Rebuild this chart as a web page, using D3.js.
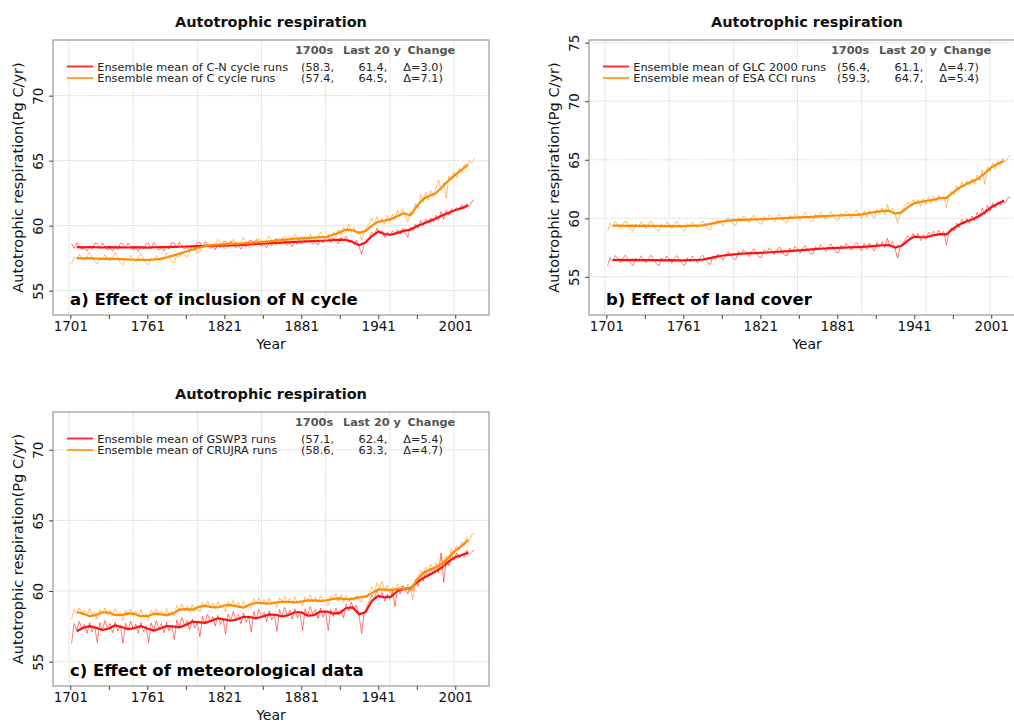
<!DOCTYPE html>
<html>
<head>
<meta charset="utf-8">
<script src="https://cdn.jsdelivr.net/npm/d3@7"></script>
<style>
  body { margin: 0; background: #fff; }
  svg { display: block; }
  text { font-family: "DejaVu Sans", sans-serif; }
</style>
</head>
<body>
<svg id="fig" width="1014" height="722"></svg>
<script>
// ---- Time axes of the series ----
const annualStart = 1702, annualStep = 2;   // yearly ensemble means, sampled every 2 years
const smoothStart = 1706, smoothStep = 5;   // running mean, sampled every 5 years

// ---- a) Effect of inclusion of N cycle ----
const cnAnnual = [
  58.65,58.25,58.70,58.40,58.15,58.30,58.05,58.45,58.20,58.65,
  58.62,58.22,58.68,58.38,58.12,58.30,58.04,58.44,58.18,58.66,
  58.60,58.24,58.66,58.36,58.14,58.28,58.02,58.42,58.20,58.62,
  58.64,58.22,58.70,58.40,58.12,58.30,58.05,58.45,58.18,58.68,
  58.68,58.28,58.72,58.44,58.18,58.34,58.08,58.48,58.24,58.70,
  58.74,58.32,58.78,58.50,58.24,58.40,58.14,58.54,58.30,58.76,
  58.80,58.40,58.84,58.56,58.30,58.46,58.20,58.60,58.36,58.82,
  58.90,58.50,58.95,58.66,58.40,58.56,58.30,58.70,58.46,58.92,
  59.00,58.60,59.05,58.76,58.50,58.66,58.40,58.80,58.56,59.02,
  59.10,58.70,59.15,58.86,58.60,58.76,58.50,58.90,58.66,59.12,
  59.15,58.7,59.1,58.8,58.6,59.1,58.9,59.2,58.7,58.9,
  58.55,58.9,58.4,57.8,58.6,58.9,59.1,59.5,59.3,59.8,
  59.4,59.6,59.1,59.5,59.2,59.6,59.3,59.7,59.35,59.8,
  59.4,59.1,59.9,59.6,60.1,59.8,60.4,60.0,60.5,60.2,
  60.6,60.3,60.8,60.4,61.1,60.5,61.2,60.8,61.3,61.1,
  61.4,61.2,61.6,61.3,61.7,61.5,61.85,62.0
];
const cAnnual = [
  57.05,57.60,57.40,57.80,57.50,57.30,57.60,57.95,57.60,57.20,
  57.05,57.55,57.35,57.78,57.45,57.25,57.55,57.92,57.55,57.15,
  57.00,57.50,57.30,57.72,57.40,57.20,57.52,57.88,57.50,57.10,
  56.98,57.48,57.28,57.70,57.40,57.20,57.52,57.90,57.55,57.25,
  57.15,57.70,57.55,58.00,57.75,57.60,57.95,58.40,58.15,57.90,
  57.95,58.50,58.30,58.75,58.45,58.30,58.60,58.95,58.65,58.30,
  58.25,58.75,58.55,58.95,58.65,58.45,58.75,59.10,58.75,58.35,
  58.35,58.85,58.65,59.05,58.76,58.55,58.85,59.22,58.88,58.48,
  58.50,59.02,58.82,59.22,58.92,58.72,59.02,59.38,59.02,58.62,
  58.65,59.15,58.95,59.35,59.05,58.85,59.15,59.50,59.15,58.78,
  59.3,58.9,59.5,59.1,59.7,59.3,59.9,59.6,60.1,59.5,
  59.9,59.4,59.6,58.9,59.5,59.9,60.2,60.6,60.1,60.7,
  60.2,60.6,60.1,60.8,60.3,60.9,60.5,61.2,60.7,61.3,
  60.8,60.3,61.1,60.9,61.7,61.3,62.4,61.8,62.6,62.0,
  62.7,62.2,62.9,63.5,62.7,63.3,62.1,63.8,63.5,64.1,
  63.7,64.4,64.0,64.7,64.5,65.0,64.8,65.2
];
const cnSmooth = [
  58.35,58.33,58.36,58.34,58.32,58.35,58.33,58.34,58.32,58.35,58.33,58.31,58.34,
  58.36,58.35,58.37,58.38,58.40,58.41,58.43,58.44,58.45,58.46,58.47,58.48,
  58.5,58.52,58.55,58.6,58.62,58.65,58.68,58.7,58.74,58.76,58.78,58.8,58.82,58.84,
  58.86,58.9,58.92,58.9,58.75,58.5,58.7,59.2,59.55,59.35,59.3,59.45,59.6,59.7,
  59.95,60.15,60.35,60.55,60.8,61.0,61.2,61.35,61.55
];
const cSmooth = [
  57.5,57.48,57.5,57.47,57.45,57.47,57.44,57.42,57.4,57.38,57.37,57.36,57.4,
  57.45,57.55,57.7,57.85,58.0,58.15,58.3,58.42,58.5,58.55,58.58,58.6,
  58.62,58.65,58.68,58.72,58.76,58.8,58.85,58.9,58.95,59.0,59.02,59.05,59.08,59.12,
  59.15,59.3,59.5,59.7,59.65,59.45,59.6,60.0,60.3,60.4,60.5,60.75,60.95,60.8,
  61.5,62.05,62.3,62.5,63.0,63.5,63.9,64.3,64.7
];

// ---- b) Effect of land cover ----
const glcAnnual = [
  55.95,56.65,56.35,56.82,56.55,56.20,56.60,56.85,56.45,56.15,
  55.98,56.62,56.32,56.80,56.52,56.18,56.58,56.85,56.42,56.12,
  55.96,56.62,56.32,56.78,56.52,56.16,56.58,56.82,56.42,56.12,
  55.97,56.62,56.33,56.78,56.54,56.18,56.60,56.86,56.48,56.20,
  56.05,56.72,56.45,56.95,56.72,56.42,56.85,57.15,56.80,56.55,
  56.50,57.18,56.88,57.32,57.05,56.72,57.12,57.40,57.02,56.70,
  56.65,57.32,57.02,57.48,57.22,56.88,57.28,57.55,57.15,56.85,
  56.80,57.46,57.16,57.62,57.36,57.02,57.42,57.68,57.28,56.98,
  56.95,57.60,57.30,57.75,57.50,57.15,57.55,57.82,57.42,57.12,
  57.05,57.70,57.40,57.86,57.60,57.26,57.65,57.92,57.52,57.22,
  57.85,57.3,57.9,57.5,57.2,57.95,57.6,58.0,57.5,58.3,
  57.6,58.0,57.4,56.6,57.5,57.9,58.2,58.5,58.2,58.7,
  58.3,58.7,58.1,58.6,58.2,58.8,58.4,58.9,58.5,59.0,
  58.6,58.9,57.7,58.9,59.2,58.9,59.6,59.2,59.9,59.5,
  60.0,59.6,60.2,59.8,60.5,60.1,60.9,60.3,61.1,60.6,
  61.3,60.9,61.4,61.1,61.6,61.3,61.75,61.8
];
const esaAnnual = [
  58.90,59.58,59.27,59.75,59.47,59.12,59.52,59.80,59.37,59.05,
  58.92,59.56,59.25,59.72,59.46,59.10,59.50,59.78,59.36,59.04,
  58.90,59.55,59.24,59.72,59.45,59.10,59.50,59.76,59.35,59.05,
  58.90,59.56,59.26,59.72,59.47,59.12,59.52,59.80,59.42,59.12,
  58.98,59.65,59.40,59.88,59.65,59.35,59.78,60.08,59.74,59.50,
  59.40,60.06,59.76,60.22,59.96,59.62,60.02,60.28,59.88,59.57,
  59.50,60.15,59.85,60.30,60.05,59.70,60.10,60.36,59.95,59.65,
  59.60,60.26,59.96,60.42,60.16,59.80,60.22,60.48,60.06,59.76,
  59.72,60.38,60.07,60.52,60.27,59.92,60.32,60.58,60.17,59.87,
  59.82,60.48,60.17,60.63,60.37,60.02,60.42,60.68,60.27,59.97,
  60.65,60.1,60.7,60.3,60.0,60.8,60.4,60.9,60.3,61.2,
  60.5,60.9,60.3,59.6,60.4,60.8,61.1,61.4,61.1,61.6,
  61.2,61.6,61.0,61.7,61.2,61.8,61.3,61.9,61.4,62.0,
  61.7,61.9,60.9,61.9,62.3,62.0,62.8,62.4,63.1,62.7,
  63.2,62.8,63.4,62.9,63.7,63.2,64.1,62.9,64.4,64.0,
  64.7,64.2,64.9,64.5,65.1,64.8,65.2,65.4
];
const glcSmooth = [
  56.44,56.45,56.43,56.45,56.43,56.44,56.42,56.43,56.41,56.42,56.4,56.41,56.42,
  56.44,56.47,56.58,56.7,56.8,56.87,56.92,56.97,57.0,57.03,57.05,57.08,
  57.12,57.15,57.18,57.22,57.26,57.3,57.34,57.38,57.42,57.45,57.47,57.49,57.51,57.53,
  57.56,57.6,57.65,57.7,57.72,57.5,57.65,58.1,58.43,58.38,58.4,58.55,58.65,58.62,
  59.1,59.45,59.7,59.9,60.15,60.5,60.95,61.25,61.5
];
const esaSmooth = [
  59.37,59.38,59.36,59.38,59.36,59.37,59.35,59.36,59.34,59.35,59.33,59.34,59.35,
  59.37,59.4,59.5,59.62,59.72,59.8,59.84,59.86,59.88,59.9,59.92,59.94,
  59.97,60.0,60.02,60.05,60.08,60.1,60.13,60.16,60.19,60.22,60.24,60.26,60.28,60.3,
  60.35,60.45,60.55,60.62,60.65,60.4,60.5,60.95,61.3,61.4,61.5,61.6,61.72,61.75,
  62.2,62.6,62.9,63.15,63.4,63.85,64.35,64.65,64.9
];

// ---- c) Effect of meteorological data ----
const gswpAnnual = [
  56.30,57.70,57.20,57.85,57.30,57.65,57.00,57.75,57.10,57.50,
  56.35,57.75,57.25,57.90,57.35,57.70,57.05,57.80,57.15,57.55,
  56.30,57.72,57.22,57.88,57.32,57.68,57.02,57.78,57.12,57.52,
  56.32,57.74,57.24,57.90,57.34,57.70,57.04,57.80,57.16,57.58,
  56.55,57.96,57.46,58.12,57.56,57.92,57.26,58.02,57.38,57.78,
  56.75,58.22,57.72,58.38,57.82,58.18,57.52,58.28,57.62,58.02,
  56.95,58.38,57.88,58.54,57.98,58.34,57.68,58.44,57.78,58.18,
  57.10,58.55,58.05,58.70,58.15,58.50,57.85,58.60,57.95,58.35,
  57.15,58.70,58.20,58.85,58.30,58.65,58.00,58.75,58.10,58.50,
  57.20,58.75,58.25,58.90,58.35,58.70,58.05,58.80,58.15,58.55,
  57.2,58.7,58.2,58.8,58.3,58.65,58.1,59.1,58.6,59.2,
  58.7,59.0,58.3,57.0,58.4,58.9,59.3,59.7,59.4,60.1,
  59.5,59.9,59.3,59.8,59.4,60.0,58.9,60.2,59.8,60.4,
  60.1,59.8,60.2,60.0,60.8,60.3,61.2,60.7,61.4,61.0,
  61.6,61.2,61.8,61.3,62.7,60.6,62.2,61.8,62.6,62.2,
  62.7,62.3,62.6,62.4,62.9,62.6,62.8,62.9
];
const crujraAnnual = [
  58.00,58.72,58.40,58.82,58.32,58.65,58.25,58.78,58.30,58.50,
  58.00,58.70,58.40,58.80,58.30,58.65,58.25,58.75,58.30,58.50,
  57.92,58.62,58.32,58.72,58.22,58.58,58.18,58.68,58.22,58.42,
  57.95,58.65,58.35,58.75,58.28,58.62,58.25,58.75,58.35,58.60,
  58.25,58.98,58.68,59.08,58.58,58.93,58.53,59.03,58.58,58.78,
  58.50,59.20,58.90,59.30,58.80,59.15,58.75,59.25,58.80,59.00,
  58.55,59.25,58.95,59.35,58.85,59.20,58.80,59.30,58.85,59.05,
  58.75,59.45,59.15,59.55,59.05,59.40,59.00,59.50,59.05,59.25,
  58.85,59.55,59.25,59.65,59.15,59.50,59.10,59.60,59.15,59.35,
  58.92,59.62,59.32,59.72,59.22,59.57,59.17,59.67,59.22,59.42,
  58.95,59.65,59.35,59.8,59.3,59.75,59.2,59.7,59.25,59.6,
  59.3,59.7,59.4,59.2,59.7,59.5,59.9,60.3,59.9,60.6,
  60.2,60.7,60.0,60.4,59.9,60.3,60.0,60.5,60.1,60.4,
  60.0,60.5,60.2,59.4,60.8,61.0,61.5,61.1,61.7,61.4,
  61.9,61.5,62.0,61.6,62.6,61.7,62.5,62.2,63.0,62.7,
  63.2,62.9,63.5,63.2,63.8,63.5,64.0,64.1
];
const gswpSmooth = [
  57.15,57.4,57.52,57.4,57.24,57.35,57.58,57.45,57.3,57.38,
  57.52,57.35,57.2,57.35,57.52,57.5,57.43,57.6,57.83,57.8,
  57.75,57.9,58.07,58.0,57.9,58.0,58.18,58.15,58.07,58.2,
  58.35,58.32,58.2,58.3,58.5,58.5,58.25,58.3,58.55,58.55,
  58.4,58.45,58.8,58.85,58.35,58.5,59.3,59.65,59.55,59.6,
  60.0,60.15,60.2,60.6,60.92,61.15,61.4,61.7,62.1,62.4,
  62.55,62.7
];
const crujraSmooth = [
  58.52,58.4,58.22,58.3,58.5,58.48,58.3,58.3,58.42,58.38,
  58.22,58.22,58.38,58.36,58.28,58.42,58.68,58.72,58.68,58.88,
  58.95,58.86,58.84,58.98,59.0,58.92,58.82,59.05,59.17,59.15,
  59.1,59.18,59.24,59.24,59.2,59.25,59.34,59.35,59.3,59.35,
  59.45,59.48,59.42,59.45,59.55,59.6,59.85,60.12,60.1,60.07,
  60.15,60.18,60.1,60.75,61.3,61.5,61.68,61.95,62.4,62.85,
  63.2,63.6
];

// ---- Legend statistics: 1700s mean, last 20 years mean, change ----
const legendLabelsA = ["Ensemble mean of C-N cycle runs", "Ensemble mean of C cycle runs"];
const legendStatsA  = [[58.3, 61.4, 3.0], [57.4, 64.5, 7.1]];
const legendLabelsB = ["Ensemble mean of GLC 2000 runs", "Ensemble mean of ESA CCI runs"];
const legendStatsB  = [[56.4, 61.1, 4.7], [59.3, 64.7, 5.4]];
const legendLabelsC = ["Ensemble mean of GSWP3 runs", "Ensemble mean of CRUJRA runs"];
const legendStatsC  = [[57.1, 62.4, 5.4], [58.6, 63.3, 4.7]];
const legendHeader  = ["1700s", "Last 20 y", "Change"];

// ---- Axis ticks ----
const xTickYears = [1701, 1731, 1761, 1791, 1821, 1851, 1881, 1911, 1941, 1971, 2001];
const xGridYears = [1700, 1750, 1800, 1850, 1900, 1950, 2000];
const yTicksAC = [55, 60, 65, 70];
const yTicksB  = [55, 60, 65, 70, 75];

const chartTitle = "Autotrophic respiration";
const yTitle = "Autotrophic respiration(Pg C/yr)";
const xTitle = "Year";

// ---- Styles ----
const RED = "#ff1010", ORANGE = "#ff8c00";
const RED_LEG = "#ff3030", ORANGE_LEG = "#ffa030";

const svg = d3.select("#fig");
const plotW = 436;
const yearDomain = [1687.5, 2027.3];

const panels = [
  { left: 53, top: 40, bottom: 315, yDomain: [53.13, 74.28], yTicks: yTicksAC,
    tag: "a) Effect of inclusion of N cycle",
    annual: [cnAnnual, cAnnual], smooth: [cnSmooth, cSmooth],
    labels: legendLabelsA, stats: legendStatsA },
  { left: 589, top: 40, bottom: 315, yDomain: [51.74, 75.23], yTicks: yTicksB,
    tag: "b) Effect of land cover",
    annual: [glcAnnual, esaAnnual], smooth: [glcSmooth, esaSmooth],
    labels: legendLabelsB, stats: legendStatsB },
  { left: 53, top: 412, bottom: 686, yDomain: [53.28, 72.67], yTicks: yTicksAC,
    tag: "c) Effect of meteorological data",
    annual: [gswpAnnual, crujraAnnual], smooth: [gswpSmooth, crujraSmooth],
    labels: legendLabelsC, stats: legendStatsC }
];

panels.forEach((p, pi) => {
  const h = p.bottom - p.top;
  const g = svg.append("g").attr("transform", `translate(${p.left},${p.top})`);
  const x = d3.scaleLinear().domain(yearDomain).range([0, plotW]);
  const y = d3.scaleLinear().domain(p.yDomain).range([h, 0]);

  // dotted grid
  g.selectAll("line.vgrid").data(xGridYears).join("line")
    .attr("x1", d => x(d)).attr("x2", d => x(d)).attr("y1", 0).attr("y2", h)
    .attr("stroke", "#d8d8d8").attr("stroke-width", 1).attr("stroke-dasharray", "1.5,1");
  g.selectAll("line.hgrid").data(p.yTicks).join("line")
    .attr("x1", 0).attr("x2", plotW).attr("y1", d => y(d)).attr("y2", d => y(d))
    .attr("stroke", "#d8d8d8").attr("stroke-width", 1).attr("stroke-dasharray", "1.5,1");

  const clipId = "clip" + pi;
  g.append("clipPath").attr("id", clipId).append("rect").attr("width", plotW).attr("height", h);
  const lines = g.append("g").attr("clip-path", `url(#${clipId})`);
  const line = d3.line().x(d => x(d[0])).y(d => y(d[1]));
  const colors = [RED, ORANGE];

  [0, 1].forEach(k => {
    const ann = p.annual[k].map((v, i) => [annualStart + i * annualStep, v]);
    const sm = p.smooth[k].map((v, i) => [smoothStart + i * smoothStep, v]);
    lines.append("path").datum(ann).attr("d", line)
      .attr("fill", "none").attr("stroke", colors[k]).attr("stroke-opacity", 0.55)
      .attr("stroke-width", 1).attr("stroke-linejoin", "round");
    lines.append("path").datum(sm).attr("d", line)
      .attr("fill", "none").attr("stroke", colors[k]).attr("stroke-width", 2.2)
      .attr("stroke-linejoin", "round");
  });

  // frame
  g.append("rect").attr("width", plotW).attr("height", h)
    .attr("fill", "none").attr("stroke", "#999").attr("stroke-width", 1.2);

  // x axis
  const xa = g.append("g").attr("transform", `translate(0,${h})`)
    .call(d3.axisBottom(x).tickValues(xTickYears).tickSize(4).tickPadding(2)
      .tickFormat((d, i) => i % 2 === 0 ? d : ""));
  xa.select(".domain").remove();
  xa.selectAll(".tick line").attr("stroke", "#444");
  xa.selectAll(".tick text").attr("font-size", 13.5).attr("fill", "#111")
    .attr("font-family", "DejaVu Sans");

  // y axis with vertical labels
  const ya = g.append("g")
    .call(d3.axisLeft(y).tickValues(p.yTicks).tickSize(4).tickFormat(d3.format("d")));
  ya.select(".domain").remove();
  ya.selectAll(".tick line").attr("stroke", "#444");
  ya.selectAll(".tick text").attr("font-size", 13.5).attr("fill", "#111")
    .attr("font-family", "DejaVu Sans")
    .attr("x", 0).attr("dy", "0.35em").attr("text-anchor", "middle")
    .attr("transform", "translate(-14.7,0) rotate(-90)");

  // titles
  g.append("text").attr("x", plotW / 2).attr("y", -13.5).attr("text-anchor", "middle")
    .attr("font-size", 14.5).attr("font-weight", "bold").attr("fill", "#111").text(chartTitle);
  g.append("text").attr("x", plotW / 2).attr("y", h + 34).attr("text-anchor", "middle")
    .attr("font-size", 14).attr("fill", "#111").text(xTitle);
  g.append("text").attr("transform", `translate(-35.5,${h / 2}) rotate(-90)`)
    .attr("dy", "0.35em").attr("text-anchor", "middle")
    .attr("font-size", 14.5).attr("fill", "#111").text(yTitle);
  g.append("text").attr("x", 17).attr("y", h - 10)
    .attr("font-size", 16.5).attr("font-weight", "bold").attr("fill", "#000").text(p.tag);

  // legend
  const hx = [242, 290, 354.5];
  legendHeader.forEach((t, i) => {
    g.append("text").attr("x", hx[i]).attr("y", 14).attr("font-size", 11.3)
      .attr("font-weight", "bold").attr("fill", "#555").text(t);
  });
  const legCols = [RED_LEG, ORANGE_LEG];
  p.labels.forEach((lab, k) => {
    const by = 30.5 + k * 11.6;
    g.append("line").attr("x1", 14).attr("x2", 40).attr("y1", by - 4).attr("y2", by - 4)
      .attr("stroke", legCols[k]).attr("stroke-width", 2);
    g.append("text").attr("x", 44.3).attr("y", by).attr("font-size", 11.3)
      .attr("fill", "#222").text(lab);
    const s = p.stats[k];
    g.append("text").attr("x", 248).attr("y", by).attr("font-size", 11.3)
      .attr("fill", "#222").text(`(${s[0].toFixed(1)},`);
    g.append("text").attr("x", 305.5).attr("y", by).attr("font-size", 11.3)
      .attr("fill", "#222").text(`${s[1].toFixed(1)},`);
    g.append("text").attr("x", 350.3).attr("y", by).attr("font-size", 11.3)
      .attr("fill", "#222").text(`\u0394=${s[2].toFixed(1)})`);
  });
});
</script>
</body>
</html>
